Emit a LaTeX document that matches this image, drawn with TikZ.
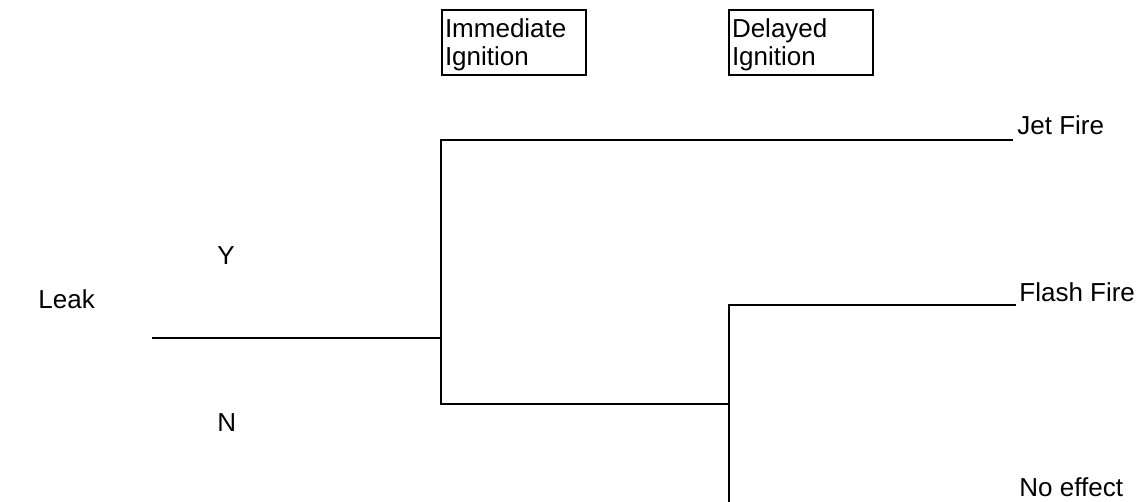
\documentclass[tikz,border=0pt]{standalone}
\usepackage{fontspec}
\setmainfont{Liberation Sans}
\begin{document}
\begin{tikzpicture}[x=0.5pt,y=-0.5pt,
  branch/.style={line width=1.25pt},
  label/.style={anchor=base west,inner sep=0pt,font=\fontsize{13pt}{14.5pt}\selectfont},
  stagebox/.style={draw,line width=1pt,anchor=north west,align=left,
    text width=69pt,inner xsep=1.5pt,inner ysep=0pt,
    text height=14pt,text depth=18.5pt,
    font=\fontsize{13pt}{14pt}\selectfont}]
\useasboundingbox (0,0) rectangle (1146,502);

% stage headers
\node[stagebox] (immediate) at (441,9) {Immediate\\Ignition};
\node[stagebox] (delayed) at (728,9) {Delayed\\Ignition};

% initiating event and branch labels
\node[label] (leak) at (38,308) {Leak};
\node[label] (yes) at (217,265) {Y};
\node[label] (no) at (217,431) {N};

% outcomes
\node[label] (jet) at (1017,135) {Jet Fire};
\node[label] (flash) at (1019,301) {Flash Fire};
\node[label] (none) at (1019,496) {No effect};

% branch points
\coordinate (leakstart) at (152,338);
\coordinate (fork1) at (441,338);
\coordinate (fork1top) at (441,140);
\coordinate (fork1bot) at (441,404);
\coordinate (fork2) at (729,404);
\coordinate (fork2top) at (729,305);
\coordinate (fork2bot) at (729,502);
\coordinate (jetend) at (1013,140);
\coordinate (flashend) at (1016,305);

% event tree
\draw[branch] (leakstart) -- (fork1);
\draw[branch] (jetend) -- (fork1top) -- (fork1bot) -- (fork2);
\draw[branch] (flashend) -- (fork2top) -- (fork2bot);
\end{tikzpicture}
\end{document}
